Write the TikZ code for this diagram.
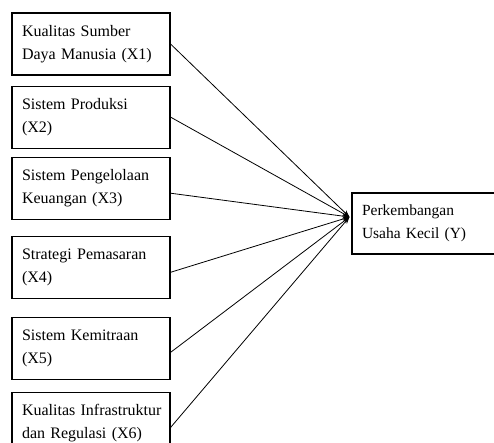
\documentclass[tikz,border=0pt]{standalone}
\usepackage{fontspec}
\setmainfont{Liberation Serif}
\usetikzlibrary{positioning,arrows,arrows.meta}
\tikzset{%
	block/.style    = {draw, rectangle, line width=1.1pt, minimum height = 62pt,
		text width = 138pt, inner xsep = 10pt, align = left,
		font = \fontsize{16}{23}\selectfont},
	yblock/.style   = {block, minimum height = 61pt, text width = 125pt, inner xsep = 10pt,
		font = \fontsize{15.5}{23}\selectfont}
}
\begin{document}
\begin{tikzpicture}[x=1pt, y=1pt, >={Stealth[length=7pt,width=5pt]}, line width=0.8pt]
        \useasboundingbox (0,0) rectangle (494,-443);
        \draw
        	node at (91,-44)[block, name=x1]{Kualitas Sumber\\Daya Manusia (X1)}
        	node [block, below =10pt of x1] (x2) {Sistem Produksi\\(X2)}
        	node [block, below =8pt of x2] (x3) {Sistem Pengelolaan\\Keuangan (X3)}
        	node [block, below =16pt of x3] (x4) {Strategi Pemasaran\\(X4)}
        	node [block, below =18pt of x4] (x5) {Sistem Kemitraan\\(X5)}
        	node [block, below =12pt of x5] (x6) {\mbox{Kualitas Infrastruktur}\\dan Regulasi (X6)}
        	
        	node at (424.5,-223.5)[yblock, name=y]{Perkembangan\\Usaha Kecil (Y)};
        	
        	\coordinate (tip) at ([shift={(-2pt,6.5pt)}]y.west);
        	
        	\draw[->](x1.east) -- (tip);
        	\draw[->](x2.east) -- (tip);
        	\draw[->]([yshift=-5pt]x3.east) -- (tip);
        	\draw[->]([yshift=-5pt]x4.east) -- (tip);
        	\draw[->]([yshift=-4pt]x5.east) -- (tip);
        	\draw[->]([yshift=-4pt]x6.east) -- (tip);
    \end{tikzpicture}
\end{document}
